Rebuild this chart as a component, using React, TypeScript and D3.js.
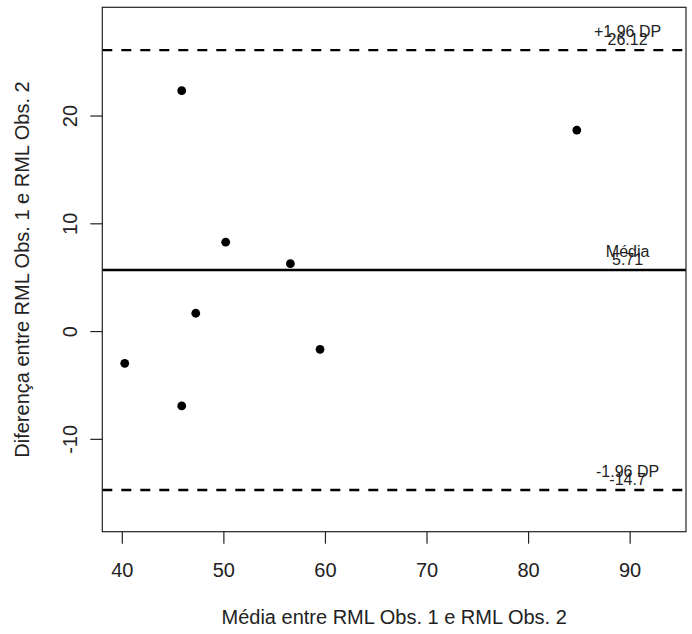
import React from "react";
import * as d3 from "d3";

const meanValues = [40.24, 45.85, 45.85, 47.23, 50.18, 56.55, 59.47, 84.75];
const diffValues = [-2.95, 22.35, -6.9, 1.7, 8.3, 6.3, -1.65, 18.7];
const xTicks = [40, 50, 60, 70, 80, 90];
const yTicks = [-10, 0, 10, 20];
const refLines = [26.12, 5.71, -14.7];
const refTitles = ["+1.96 DP", "Média", "-1.96 DP"];
const refLabels = ["26.12", "5.71", "-14.7"];
const refDashed = [true, false, true];
const labelX = 89.75;
const xLabel = "Média entre RML Obs. 1 e RML Obs. 2";
const yLabel = "Diferença entre RML Obs. 1 e RML Obs. 2";

const W = 692;
const H = 634;
const box = { left: 102.3, right: 686, top: 7.3, bottom: 531.7 };

export default function App() {
  const x = d3.scaleLinear().domain([38.03, 95.5]).range([box.left, box.right]);
  const y = d3.scaleLinear().domain([-18.57, 30.09]).range([box.bottom, box.top]);
  const font = "'Liberation Sans', Arial, sans-serif";
  const cx = (box.left + box.right) / 2;
  const cy = (box.top + box.bottom) / 2;
  return (
    <svg
      width={W}
      height={H}
      style={{ position: "absolute", left: 0, top: 0, background: "#fff" }}
      fontFamily={font}
      fontSize={20}
    >
      <rect x={0} y={0} width={W} height={H} fill="#fff" />
      {refLines.map((v, i) => (
        <g key={"ref" + i}>
          <line
            x1={box.left}
            x2={box.right}
            y1={y(v)}
            y2={y(v)}
            stroke="#000"
            strokeWidth={2.4}
            strokeDasharray={refDashed[i] ? "10,9" : undefined}
          />
          <text x={x(labelX)} y={y(v) - 13} textAnchor="middle" fill="#222" fontSize={16}>
            {refTitles[i]}
          </text>
          <text x={x(labelX)} y={y(v) - 5} textAnchor="middle" fill="#222" fontSize={16}>
            {refLabels[i]}
          </text>
        </g>
      ))}
      {meanValues.map((m, i) => (
        <circle key={"p" + i} cx={x(m)} cy={y(diffValues[i])} r={4.4} fill="#000" />
      ))}
      <rect
        x={box.left}
        y={box.top}
        width={box.right - box.left}
        height={box.bottom - box.top}
        fill="none"
        stroke="#222"
        strokeWidth={1.2}
      />
      {xTicks.map((t) => (
        <g key={"xt" + t}>
          <line x1={x(t)} x2={x(t)} y1={box.bottom} y2={box.bottom + 12} stroke="#222" strokeWidth={1.2} />
          <text x={x(t)} y={box.bottom + 45} textAnchor="middle" fill="#222">
            {t}
          </text>
        </g>
      ))}
      {yTicks.map((t) => (
        <g key={"yt" + t}>
          <line x1={box.left - 12} x2={box.left} y1={y(t)} y2={y(t)} stroke="#222" strokeWidth={1.2} />
          <text
            transform={`translate(${box.left - 25},${y(t)}) rotate(-90)`}
            textAnchor="middle"
            fill="#222"
          >
            {t}
          </text>
        </g>
      ))}
      <text x={cx} y={box.bottom + 92} textAnchor="middle" fill="#222">
        {xLabel}
      </text>
      <text transform={`translate(29,${cy}) rotate(-90)`} textAnchor="middle" fill="#222">
        {yLabel}
      </text>
    </svg>
  );
}
